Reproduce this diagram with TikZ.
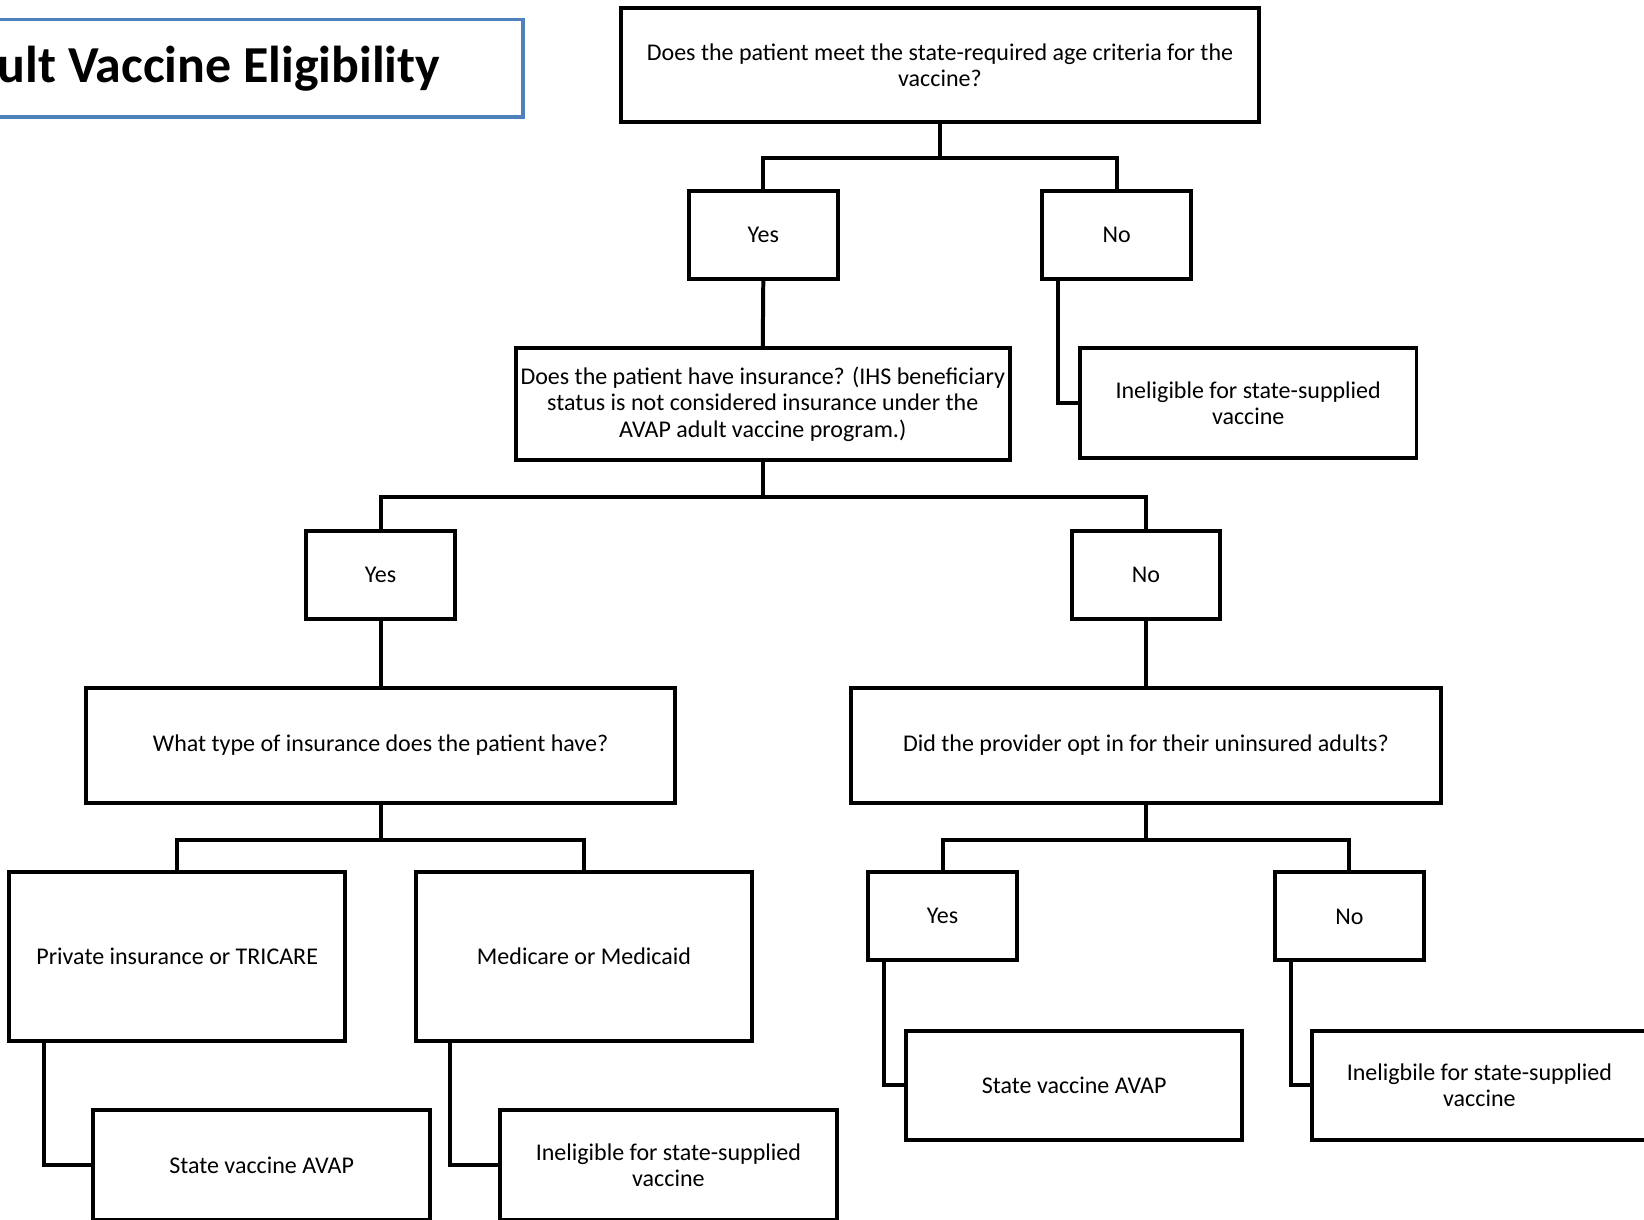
\documentclass[tikz,border=0pt]{standalone}
\usepackage{fontspec}
\setmainfont{Carlito}
\definecolor{titleblue}{RGB}{79,129,189}
\tikzset{
  box/.style={draw=black, line width=3.8pt, rectangle, inner sep=0pt, align=center,
    font=\fontsize{22.9pt}{25pt}\selectfont},
  link/.style={draw=black, line width=3.8pt}
}
\begin{document}
\begin{tikzpicture}[x=1pt,y=-1pt]
\useasboundingbox (0,0) rectangle (1568,1163);
\clip (0,0) rectangle (1568,1163);
% title
\node[draw=titleblue, line width=3.5pt, rectangle, inner sep=0pt, minimum width=700pt, minimum height=93pt] (titlebox) at (149,65) {};
\node[anchor=base east, inner sep=0pt, font=\fontsize{49.5pt}{58pt}\selectfont\bfseries] (title) at (420,79) {ult Vaccine Eligibility};
% nodes
\node[box, minimum width=609pt, minimum height=108pt] (q1) at (896.5,62) {Does the patient meet the state-required age criteria for the\\vaccine?};
\node[box, minimum width=142pt, minimum height=84pt] (yes1) at (728,224) {Yes};
\node[box, minimum width=142pt, minimum height=84pt] (no1) at (1065,224) {No};
\node[box, minimum width=471pt, minimum height=107pt] (q2) at (727.5,385.5) {Does the patient have insurance? (IHS beneficiary\\status is not considered insurance under the\\AVAP adult vaccine program.)};
\node[box, minimum width=321pt, minimum height=105pt] (inel1) at (1190.5,384.5) {Ineligible for state-supplied\\vaccine};
\node[box, minimum width=142pt, minimum height=84pt] (yes2) at (363,548) {Yes};
\node[box, minimum width=142pt, minimum height=84pt] (no2) at (1093,548) {No};
\node[box, minimum width=562pt, minimum height=110pt] (q3) at (363,711) {What type of insurance does the patient have?};
\node[box, minimum width=562pt, minimum height=110pt] (q4) at (1093,711) {Did the provider opt in for their uninsured adults?};
\node[box, minimum width=320pt, minimum height=161pt] (priv) at (169,912.5) {Private insurance or TRICARE};
\node[box, minimum width=320pt, minimum height=161pt] (medi) at (557,912.5) {Medicare or Medicaid};
\node[box, minimum width=321pt, minimum height=105pt] (state1) at (249.5,1111.5) {State vaccine AVAP};
\node[box, minimum width=321pt, minimum height=105pt] (inel2) at (637.5,1111.5) {Ineligible for state-supplied\\vaccine};
\node[box, minimum width=142pt, minimum height=84pt] (yes3) at (899,874) {Yes};
\node[box, minimum width=142pt, minimum height=84pt] (no3) at (1287,874) {No};
\node[box, minimum width=321pt, minimum height=104pt] (state2) at (1024.5,1035) {State vaccine AVAP};
\node[box, minimum width=320pt, minimum height=104pt] (inel3) at (1411,1035) {Ineligbile for state-supplied\\vaccine};
% connectors
\draw[link] (q1.south) -- ++(0,33) coordinate (b1);
\draw[link] (yes1.north) |- (b1) -| (no1.north);
\draw[link] (yes1.south) -- (q2.north);
\draw[link] ([xshift=17pt]no1.south west) |- (inel1.west);
\draw[link] (q2.south) -- ++(0,33) coordinate (b2);
\draw[link] (yes2.north) |- (b2) -| (no2.north);
\draw[link] (yes2.south) -- (q3.north);
\draw[link] (no2.south) -- (q4.north);
\draw[link] (q3.south) -- ++(0,33) coordinate (b3);
\draw[link] (priv.north) |- (b3) -| (medi.north);
\draw[link] ([xshift=35pt]priv.south west) |- (state1.west);
\draw[link] ([xshift=34pt]medi.south west) |- (inel2.west);
\draw[link] (q4.south) -- ++(0,33) coordinate (b4);
\draw[link] (yes3.north) |- (b4) -| (no3.north);
\draw[link] ([xshift=17pt]yes3.south west) |- (state2.west);
\draw[link] ([xshift=17pt]no3.south west) |- (inel3.west);
\end{tikzpicture}
\end{document}
